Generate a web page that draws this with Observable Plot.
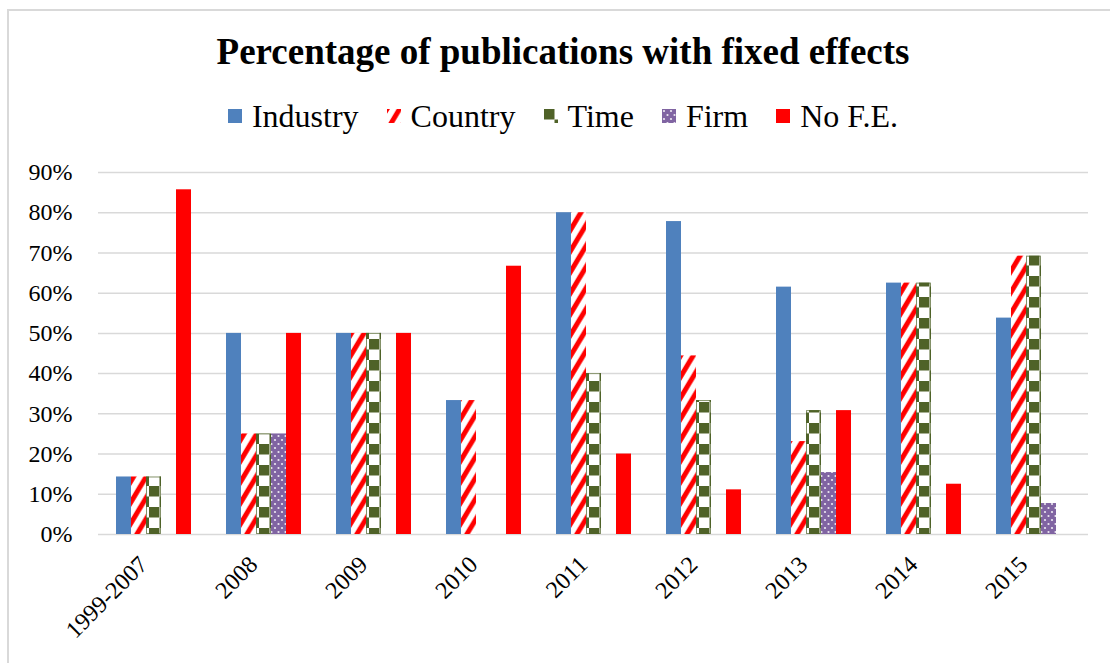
<!DOCTYPE html>
<html>
<head>
<meta charset="utf-8">
<script src="https://cdn.jsdelivr.net/npm/d3@7"></script>
<script src="https://cdn.jsdelivr.net/npm/@observablehq/plot@0.6"></script>
<style>
  html, body { margin: 0; padding: 0; background: #fff; }
  body { width: 1110px; height: 663px; position: relative; overflow: hidden; font-family: "Liberation Serif", "Times New Roman", serif; }
  #frame { position: absolute; left: 7px; top: 9px; width: 1200px; height: 800px; border: 2px solid #d9d9d9; box-sizing: border-box; }
  #title { position: absolute; left: 0; width: 1126px; top: 33px; text-align: center; font-size: 37px; font-weight: bold; line-height: 1; color: #000; }
  #legend { position: absolute; left: 0; width: 1126px; top: 100px; display: flex; justify-content: center; }
  #legend div.lg-swatches { font-size: 32px; line-height: 1; color: #000; margin: 0; min-height: 0; padding-left: 28px; }
  #legend div.lg-swatches, #legend div.lg-swatches * { font-family: "Liberation Serif", "Times New Roman", serif !important; }
  #legend div.lg-swatches .lg-swatch { margin-right: 28px; }
  #legend div.lg-swatches .lg-swatch > svg { margin-right: 10px; }
  #chart { position: absolute; left: 0; top: 150px; }
  #chart svg, #chart svg text { font-family: "Liberation Serif", "Times New Roman", serif !important; }
</style>
</head>
<body>
<svg width="0" height="0" style="position:absolute">
  <defs>
    <pattern id="pCountry" patternUnits="userSpaceOnUse" width="12.6" height="21">
      <rect width="12.6" height="21" fill="#fff"/>
      <path d="M-6.3,10.5 L6.3,-10.5 M0,21 L12.6,0 M6.3,31.5 L18.9,10.5" stroke="#FF0000" stroke-width="5" fill="none"/>
    </pattern>
    <pattern id="pTime" patternUnits="userSpaceOnUse" width="21" height="21">
      <rect width="21" height="21" fill="#fff"/>
      <rect width="10.5" height="10.5" fill="#4F6228"/>
      <rect x="10.5" y="10.5" width="10.5" height="10.5" fill="#4F6228"/>
    </pattern>
    <pattern id="pFirm" patternUnits="userSpaceOnUse" width="7" height="8">
      <rect width="7" height="8" fill="#8064A2"/>
      <circle cx="2" cy="2" r="1.1" fill="#fff" fill-opacity="0.85"/>
      <circle cx="5.5" cy="6" r="1.1" fill="#fff" fill-opacity="0.85"/>
    </pattern>
  </defs>
</svg>
<div id="frame"></div>
<div id="title">Percentage of publications with fixed effects</div>
<div id="legend"></div>
<div id="chart"></div>
<script>
const categories = ["1999-2007", "2008", "2009", "2010", "2011", "2012", "2013", "2014", "2015"];
const series = ["Industry", "Country", "Time", "Firm", "No F.E."];
const industry = [14.3, 50, 50, 33.3, 80, 77.8, 61.5, 62.5, 53.8];
const country  = [14.3, 25, 50, 33.3, 80, 44.4, 23.1, 62.5, 69.2];
const time     = [14.3, 25, 50, 0, 40, 33.3, 30.8, 62.5, 69.2];
const firm     = [0, 25, 0, 0, 0, 0, 15.4, 0, 7.7];
const noFE     = [85.7, 50, 50, 66.7, 20, 11.1, 30.8, 12.5, 0];
const yTicks = [0, 10, 20, 30, 40, 50, 60, 70, 80, 90];

const fills = ["#4F81BD", "url(#pCountry)", "url(#pTime)", "url(#pFirm)", "#FF0000"];
const seriesValues = [industry, country, time, firm, noFE];

const data = [];
categories.forEach((c, i) => {
  series.forEach((s, j) => {
    data.push({category: c, series: s, value: seriesValues[j][i]});
  });
});
const nonZero = data.filter(d => d.value > 0);

const chart = Plot.plot({
  width: 1110,
  height: 513,
  marginLeft: 96,
  marginRight: 20,
  marginTop: 22,
  marginBottom: 129,
  style: {fontFamily: "'Liberation Serif', serif", fontSize: "24px", color: "#000", background: "transparent", overflow: "visible"},
  fx: {domain: categories, padding: 0, label: null},
  x: {domain: series, axis: null, padding: 0, insetLeft: 17, insetRight: 17},
  y: {domain: [0, 90], label: null},
  color: {domain: series, range: fills},
  marks: [
    Plot.ruleY(yTicks, {stroke: "#d9d9d9", strokeWidth: 1.5, strokeOpacity: 1}),
    Plot.barY(nonZero, {fx: "category", x: "series", y: "value", fill: "series"}),
    Plot.barY(nonZero.filter(d => d.series === "Time"), {fx: "category", x: "series", y: "value", fill: "none", stroke: "#4F6228", strokeWidth: 1, strokeOpacity: 0.7, inset: 0.5}),
    Plot.axisY({ticks: yTicks, tickFormat: d => d + "%", tickSize: 0, tickPadding: 26, fontSize: 24, label: null}),
    Plot.axisFx({anchor: "bottom", tickRotate: -45, tickSize: 0, tickPadding: 26, fontSize: 24, label: null, dx: -10})
  ]
});
document.getElementById("chart").appendChild(chart);

const legend = Plot.legend({
  color: {type: "ordinal", domain: series, range: fills},
  swatchSize: 14,
  className: "lg"
});
document.getElementById("legend").appendChild(legend);
</script>
</body>
</html>
